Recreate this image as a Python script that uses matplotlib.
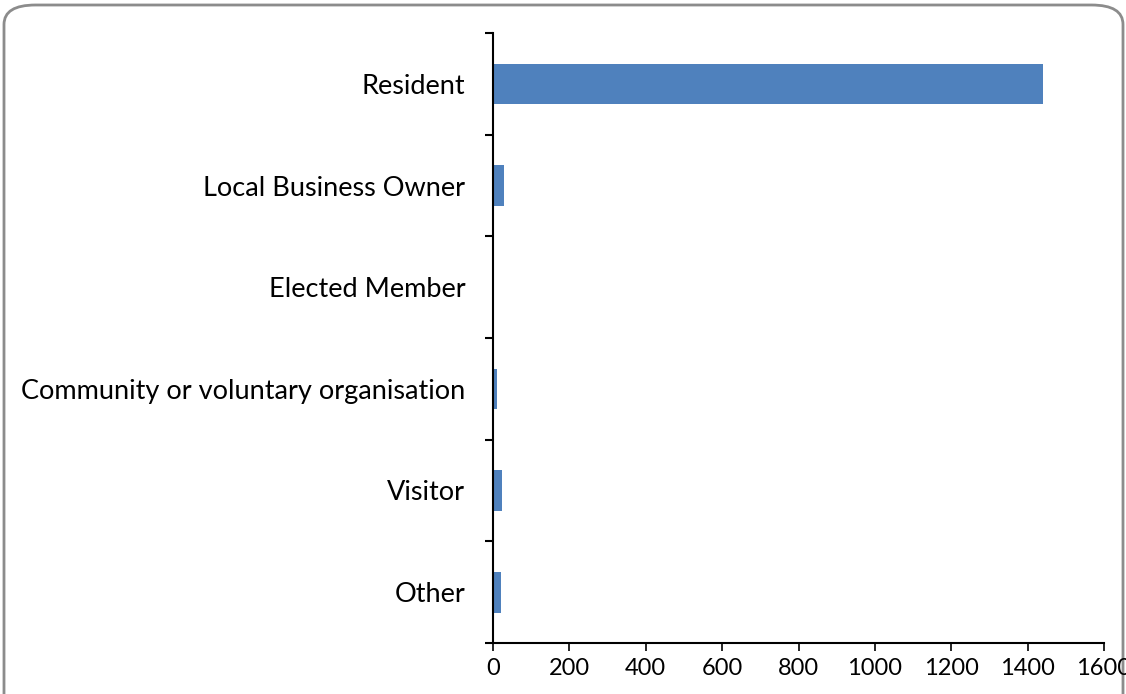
import matplotlib
matplotlib.use("Agg")
import matplotlib.pyplot as plt
from matplotlib.patches import FancyBboxPatch

categories = [
    "Resident",
    "Local Business Owner",
    "Elected Member",
    "Community or voluntary organisation",
    "Visitor",
    "Other",
]
counts = [1440, 28, 0, 10, 23, 20]
x_ticks = [0, 200, 400, 600, 800, 1000, 1200, 1400, 1600]

W, H = 1126, 694
fig = plt.figure(figsize=(W / 100, H / 100), dpi=100)
plt.rcParams["font.family"] = ["Lato", "DejaVu Sans"]

# chart frame with rounded corners, running past the bottom edge
frame = FancyBboxPatch(
    (4 / W, -40 / H), 1119 / W, (H - 5 + 40) / H,
    boxstyle="round,pad=0,rounding_size=0.028",
    transform=fig.transFigure, facecolor="none",
    edgecolor="#8c8c8c", linewidth=2, clip_on=False, zorder=-1,
)
fig.patches.append(frame)

ax = fig.add_axes([493 / W, (H - 643) / H, (1102 - 491) / W, (643 - 33) / H])
ax.set_facecolor("none")
pos = list(range(len(categories)))
ax.barh(pos, counts, height=0.4, color="#4f81bd")
ax.set_xlim(0, 1600)
ax.set_ylim(len(categories) - 0.5, -0.5)

ax.set_xticks(x_ticks)
ax.set_xticklabels([str(t) for t in x_ticks], fontsize=17)
ax.set_yticks([p + 0.5 for p in range(-1, len(categories))], minor=False)
ax.set_yticklabels([])
ax.set_yticks(pos, minor=True)
ax.set_yticklabels(categories, minor=True, fontsize=19.5, va="center_baseline")
ax.tick_params(axis="y", which="minor", length=0, pad=20)
ax.tick_params(axis="y", which="major", length=6, width=1.5, direction="out")
ax.tick_params(axis="x", length=6, width=1.2, direction="out", pad=5)

for side in ("top", "right"):
    ax.spines[side].set_visible(False)
for side in ("left", "bottom"):
    ax.spines[side].set_linewidth(1.5)
    ax.spines[side].set_color("black")

fig.savefig("out.png", dpi=100)
